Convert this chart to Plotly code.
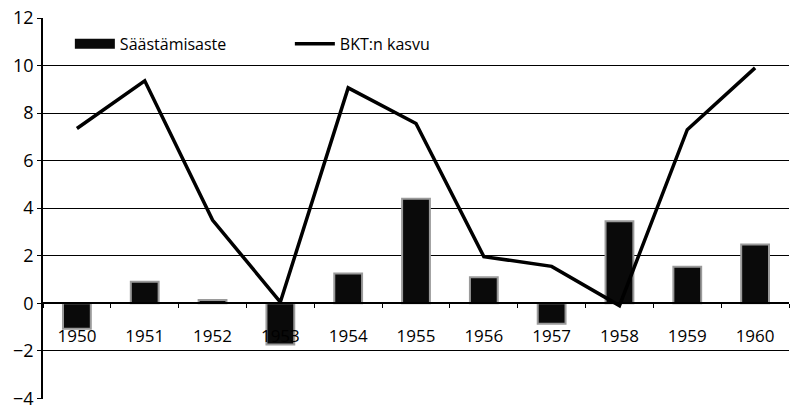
import plotly.graph_objects as go

years = ["1950", "1951", "1952", "1953", "1954", "1955", "1956", "1957", "1958", "1959", "1960"]
saastamisaste = [-1.07, 0.9, 0.14, -1.74, 1.25, 4.4, 1.09, -0.86, 3.45, 1.53, 2.47]
bkt_kasvu = [7.35, 9.36, 3.5, 0.05, 9.06, 7.56, 1.96, 1.55, -0.1, 7.3, 9.9]
y_ticks = [-4, -2, 0, 2, 4, 6, 8, 10, 12]
y_ticktext = ["\u22124", "\u22122", "0", "2", "4", "6", "8", "10", "12"]

FONT = "Open Sans"
BAR_FILL = "#0a0a0a"
BAR_EDGE = "#9a9a9a"

Y_MIN = -4.03
Y_MAX = 12

fig = go.Figure()
fig.add_trace(go.Bar(
    x=years, y=saastamisaste, name="Säästämisaste", showlegend=False,
    marker=dict(color=BAR_FILL, line=dict(color=BAR_EDGE, width=2)),
))
# legend swatch for the bars (wide rectangle as in the original)
fig.add_trace(go.Scatter(
    x=[None], y=[None], name="Säästämisaste", mode="lines",
    line=dict(color=BAR_FILL, width=12),
))
fig.add_trace(go.Scatter(
    x=years, y=bkt_kasvu, name="BKT:n kasvu", mode="lines",
    line=dict(color="black", width=3.5),
))

fig.update_layout(
    width=791, height=406,
    margin=dict(l=43, r=2, t=18, b=7),
    paper_bgcolor="white", plot_bgcolor="white",
    font=dict(family=FONT, size=16, color="black"),
    bargap=0.59,
    showlegend=True,
    legend=dict(
        orientation="h", x=0.036, y=0.977, xanchor="left", yanchor="top",
        bgcolor="rgba(0,0,0,0)", font=dict(size=16, family=FONT),
        entrywidth=165, entrywidthmode="pixels", itemwidth=40,
        traceorder="normal",
    ),
    xaxis=dict(
        type="category", anchor="free", position=(0 - Y_MIN) / (Y_MAX - Y_MIN),
        automargin=False,
        showline=True, linecolor="black", linewidth=1.5,
        ticks="outside", ticklen=4, tickcolor="black", tickson="boundaries",
        ticklabelstandoff=18, showgrid=False,
        tickfont=dict(size=17, family=FONT),
    ),
    yaxis=dict(
        range=[Y_MIN, Y_MAX], tickvals=y_ticks, ticktext=y_ticktext, automargin=False,
        ticklabeloverflow="allow",
        showline=True, linecolor="black", linewidth=1.5,
        ticks="outside", ticklen=4, tickcolor="black",
        showgrid=True, gridcolor="black", gridwidth=1,
        zeroline=True, zerolinecolor="black", zerolinewidth=1.5,
        tickfont=dict(size=18, family=FONT),
    ),
)

fig.write_html(
    "out.html",
    config={"displayModeBar": False},
    post_script="document.body.style.margin='0';document.body.style.overflow='hidden';",
)
